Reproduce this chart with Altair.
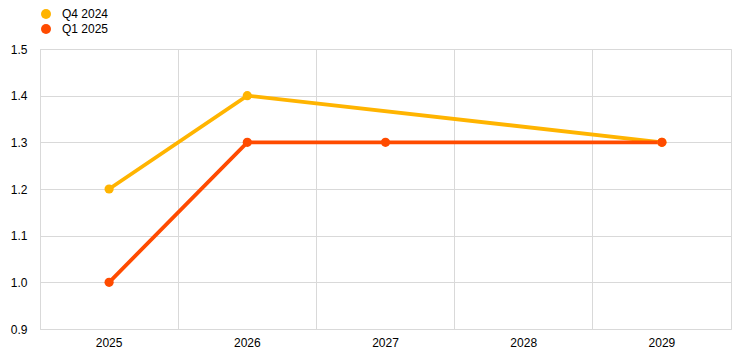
import altair as alt
import pandas as pd

years = ["2025", "2026", "2027", "2028", "2029"]
series_names = ["Q4 2024", "Q1 2025"]
q4_2024 = [1.2, 1.4, None, None, 1.3]
q1_2025 = [1.0, 1.3, 1.3, None, 1.3]
colors = ["#FFB400", "#FF4B00"]

rows = []
for name, vals in zip(series_names, [q4_2024, q1_2025]):
    for y, v in zip(years, vals):
        if v is not None:
            rows.append({"year": y, "value": v, "series": name})
df = pd.DataFrame(rows)

x = alt.X("year:O", sort=years,
          scale=alt.Scale(type="band", domain=years, paddingInner=0, paddingOuter=0),
          axis=alt.Axis(title=None, labelAngle=0, bandPosition=0, grid=True, ticks=False,
                        domain=False, labelPadding=8, gridColor="#d9d9d9",
                        labelFont="Liberation Sans", labelFontSize=12, labelColor="#000"))
y = alt.Y("value:Q", scale=alt.Scale(domain=[0.9, 1.5], nice=False, zero=False),
          axis=alt.Axis(title=None, values=[0.9, 1.0, 1.1, 1.2, 1.3, 1.4, 1.5], format=".1f",
                        ticks=False, domain=False, gridColor="#d9d9d9", labelPadding=13,
                        labelFont="Liberation Sans", labelFontSize=12, labelColor="#000"))
color = alt.Color("series:N", sort=series_names,
                  scale=alt.Scale(domain=series_names, range=colors),
                  legend=alt.Legend(title=None, orient="none", legendX=0, legendY=-41,
                                    padding=0, symbolType="circle", symbolSize=100,
                                    symbolStrokeWidth=0, labelOffset=10,
                                    labelFont="Liberation Sans", labelFontSize=12,
                                    labelColor="#000", rowPadding=3, symbolOpacity=1))

base = alt.Chart(df).encode(x=x, y=y, color=color)
lines = base.mark_line(strokeWidth=3.8)
points = base.mark_point(filled=True, size=85, opacity=1)

chart = (lines + points).properties(
    width=691, height=280,
    autosize=alt.AutoSizeParams(type="none"),
    padding={"left": 32, "top": 41, "right": 5, "bottom": 20},
).configure_view(stroke="#d9d9d9")

chart.save("out.html", embed_options={"renderer": "svg", "actions": False})
